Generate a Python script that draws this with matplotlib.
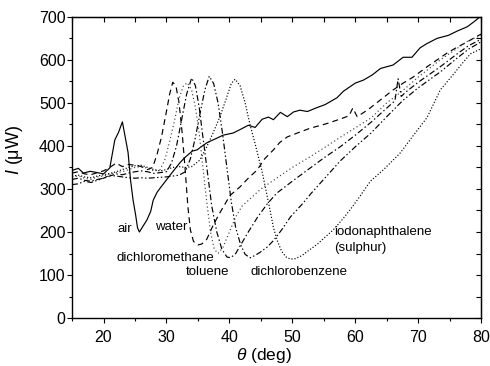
import matplotlib
matplotlib.use("Agg")
import matplotlib.pyplot as plt
from matplotlib.ticker import MultipleLocator

plt.rcParams["font.family"] = ["Liberation Sans", "DejaVu Sans"]
plt.rcParams["mathtext.fontset"] = "custom"
plt.rcParams["mathtext.rm"] = "Liberation Sans"
plt.rcParams["mathtext.it"] = "Liberation Sans:italic"

# reflectivity curves, theta (deg) vs I (uW)
air_x = [15, 16, 16.8, 17.9, 19, 20, 21, 21.8, 22.4, 23, 23.9, 24.3, 24.7, 25.1, 25.4, 25.7,
         26.3, 26.9, 27.5, 27.9, 28.5, 29, 30, 31, 32.2, 33, 34.1, 34.9, 35.5, 36.5, 38, 39,
         40.6, 41.7, 43, 44.1, 45.2, 46.2, 47, 48.1, 49.2, 50.2, 51.2, 52.4, 53.9, 55.2, 57.1,
         58.1, 60, 61.3, 62.7, 64, 66, 67.6, 69, 70.3, 71.4, 73, 74.8, 76.2, 77.8, 78.8, 80]
air_y = [343, 348, 337, 341, 338, 335, 349, 414, 432, 456, 385, 320, 274, 240, 210, 200,
         214, 228, 248, 274, 292, 302, 321, 340, 362, 374, 388, 391, 398, 408, 418, 425,
         430, 438, 448, 443, 462, 467, 461, 478, 468, 479, 483, 480, 489, 496, 512,
         527, 546, 553, 565, 580, 588, 606, 606, 628, 638, 650, 657, 667, 677, 688, 702]

water_x = [15, 16, 17, 18, 19, 20, 21, 22, 23, 24, 25, 26, 27, 27.8, 28.5, 29.2, 30, 30.5, 31,
           31.5, 32, 32.5, 33, 33.4, 33.8, 34.3, 35, 35.6, 36.4, 37.4, 38.5, 40.1, 41.7, 43,
           44.4, 45.6, 47, 48, 49.2, 50.8, 52.8, 55.5, 57.5, 59, 59.6, 60.3, 62, 64, 66, 67.5,
           69.2, 71.4, 73, 74.6, 76, 77.8, 79, 80]
water_y = [337, 340, 335, 333, 338, 342, 350, 360, 352, 357, 355, 352, 345, 350, 380, 420, 480,
           520, 548, 540, 500, 430, 340, 260, 205, 178, 170, 172, 183, 215, 245, 285, 305, 325,
           344, 370, 391, 408, 421, 430, 441, 452, 462, 470, 488, 468, 484, 507, 530, 545,
           560, 584, 600, 616, 628, 642, 652, 660]

dcm_x = [15, 16, 17, 18, 19, 20, 21, 22, 23, 24, 25, 26, 27, 28, 29, 29.8, 30.5, 31.3, 32,
         32.7, 33.3, 34, 34.6, 35.2, 35.8, 36.4, 37, 37.6, 38.2, 39, 40, 41, 42, 43.5, 45, 47,
         50, 52.5, 55, 57.6, 60, 62.5, 65, 67.5, 70, 73.5, 76, 78, 80]
dcm_y = [328, 330, 325, 322, 328, 330, 335, 338, 340, 345, 350, 352, 348, 342, 345, 370, 410,
         460, 510, 540, 547, 530, 490, 430, 350, 270, 200, 160, 150, 165, 200, 235, 260, 280,
         300, 320, 350, 372, 395, 420, 442, 465, 500, 528, 560, 600, 625, 645, 657]

tol_x = [15, 16, 17, 18, 19, 20, 21, 22, 23, 24, 25, 26, 27, 28, 29, 30, 30.8, 31.6, 32.4,
         33.2, 34, 34.6, 35.2, 35.8, 36.5, 37.2, 38, 38.8, 39.6, 40.2, 41, 42, 43, 44.5, 46,
         47.5, 50, 52.5, 55, 57.6, 60, 62.5, 65, 66.3, 66.8, 67.3, 68, 70, 73.5, 76, 78, 80]
tol_y = [322, 325, 320, 318, 322, 325, 330, 335, 333, 337, 340, 342, 340, 336, 338, 340, 360,
         400, 460, 520, 558, 540, 490, 420, 340, 260, 200, 160, 142, 140, 150, 175, 200, 235,
         265, 290, 318, 345, 372, 398, 425, 455, 488, 505, 556, 515, 525, 548, 584, 612, 633, 648]

dcb_x = [15, 16, 17, 18, 19, 20, 21, 22, 23, 24, 25, 26, 27, 28, 29, 30, 31, 32, 33, 33.8,
         34.6, 35.4, 36.1, 36.8, 37.5, 38.2, 38.9, 39.6, 40.3, 41, 41.8, 42.5, 43.3, 44, 44.8,
         46, 47, 48.3, 49.7, 51.7, 53, 54.9, 57.6, 60, 62.5, 65, 67.5, 70, 73.5, 76, 78, 80]
dcb_y = [310, 312, 318, 315, 320, 325, 332, 330, 328, 326, 325, 326, 325, 326, 327, 328, 330,
         332, 340, 370, 420, 480, 530, 562, 545, 500, 430, 350, 270, 210, 170, 148, 140, 145,
         152, 165, 180, 205, 235, 267, 290, 321, 365, 398, 430, 468, 505, 535, 572, 602, 625, 642]

iodo_x = [15, 16, 17, 18, 19, 20, 21, 22, 23, 24, 25, 26, 27, 28, 29, 30, 31, 32, 33, 34,
          35.3, 36.4, 37.4, 38.5, 39.5, 40.3, 40.9, 41.7, 42.5, 43.3, 44, 44.6, 45.2, 45.7,
          46.4, 47, 47.6, 48.3, 49, 49.7, 50.5, 51.5, 52.4, 54, 55.2, 56.5, 58, 59.2, 60.5,
          62.4, 64.5, 67.1, 69, 71.4, 73.5, 75.5, 77, 78.3, 80]
iodo_y = [330, 332, 328, 326, 330, 333, 336, 340, 345, 350, 354, 355, 350, 345, 342, 345, 350,
          352, 350, 352, 367, 398, 430, 468, 510, 545, 555, 540, 500, 448, 410, 375, 340, 305,
          255, 210, 180, 155, 142, 137, 138, 145, 155, 172, 188, 205, 230, 252, 278,
          318, 345, 383, 420, 466, 530, 565, 592, 614, 626]

fig = plt.figure(figsize=(4.9, 3.66), dpi=100)
ax = fig.add_axes([0.147, 0.131, 0.835, 0.823])

lw = 0.85
ax.plot(air_x, air_y, color="black", lw=lw, linestyle="-")
ax.plot(water_x, water_y, color="black", lw=lw, linestyle=(0, (5, 3.5)))
ax.plot(dcm_x, dcm_y, color="#444444", lw=lw, linestyle=(0, (1, 2.2)))
ax.plot(tol_x, tol_y, color="black", lw=lw, linestyle=(0, (5, 2.2, 1.2, 2.2)))
ax.plot(dcb_x, dcb_y, color="black", lw=lw, linestyle=(0, (5, 2, 1.2, 2, 1.2, 2)))
ax.plot(iodo_x, iodo_y, color="black", lw=lw, linestyle=(0, (1, 1.6)))

ax.set_xlim(15, 80)
ax.set_ylim(0, 700)
ax.xaxis.set_major_locator(MultipleLocator(10))
ax.xaxis.set_minor_locator(MultipleLocator(5))
ax.yaxis.set_major_locator(MultipleLocator(100))
ax.yaxis.set_minor_locator(MultipleLocator(50))
ax.tick_params(which="major", direction="out", length=3.6, width=0.8, labelsize=11.5,
               top=False, right=False)
ax.tick_params(which="minor", direction="out", length=2.2, width=0.8, top=False, right=False)
ax.tick_params(axis="x", which="major", pad=5)
ax.tick_params(axis="y", which="major", pad=1)
for s in ax.spines.values():
    s.set_linewidth(1.0)

# top and right ticks point inwards
top = ax.secondary_xaxis("top")
top.xaxis.set_major_locator(MultipleLocator(5))
top.tick_params(direction="in", length=3.6, width=0.8, labeltop=False)
right = ax.secondary_yaxis("right")
right.yaxis.set_major_locator(MultipleLocator(50))
right.tick_params(direction="in", length=3.6, width=0.8, labelright=False)

ax.set_xlabel(r"$\theta$ (deg)", fontsize=12.5)
ax.set_ylabel("$I$ (μW)", fontsize=13)
ax.xaxis.set_label_coords(0.47, -0.092)
ax.yaxis.set_label_coords(-0.115, 0.558)

fs = 9.5
ax.text(22.2, 207, "air", fontsize=fs, va="center")
ax.text(28.2, 212, "water", fontsize=fs, va="center")
ax.text(22.0, 140, "dichloromethane", fontsize=fs, va="center")
ax.text(33.0, 107, "toluene", fontsize=fs, va="center")
ax.text(43.3, 107, "dichlorobenzene", fontsize=fs, va="center")
ax.text(56.7, 200, "iodonaphthalene", fontsize=fs, va="center")
ax.text(56.7, 163, "(sulphur)", fontsize=fs, va="center")

fig.savefig("out.png", dpi=100)
